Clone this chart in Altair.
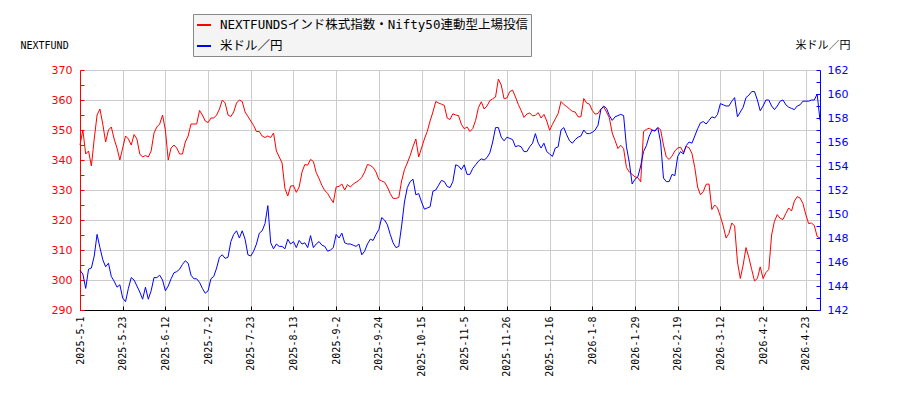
import altair as alt
import pandas as pd

# tick labels every 15 trading days
tick_dates = [
    "2025-5-1", "2025-5-23", "2025-6-12", "2025-7-2", "2025-7-23", "2025-8-13",
    "2025-9-2", "2025-9-24", "2025-10-15", "2025-11-5", "2025-11-26", "2025-12-16",
    "2026-1-8", "2026-1-29", "2026-2-19", "2026-3-12", "2026-4-2", "2026-4-23",
]

# NEXTFUNDS India Nifty50 ETF (left axis), one value per trading day
nextfunds = [
    345, 350, 342, 343, 338, 347, 355, 357, 352, 346,
    350, 351, 347, 344, 340, 344, 348, 347, 345, 348.5,
    347, 342, 341, 341.5, 341, 343, 349, 351, 352, 355,
    350, 340, 344, 345, 344, 342, 342, 346, 348, 352,
    352, 352, 356.5, 355, 353, 352.5, 354, 354, 355, 357,
    360, 359, 355, 354.5, 356, 359, 360, 359.5, 356, 354.5,
    353, 351.5, 349.5, 349.5, 348, 347.5, 348, 347.5, 349, 343,
    341, 339, 330.5, 328, 331.3, 331.5, 329.2, 331, 336, 338.5,
    338.3, 340.2, 339.5, 335.8, 333.8, 331.5, 329.8, 328.9, 327.2, 325.8,
    331, 331.2, 332, 330, 331.8, 331, 332, 332.6, 333.2, 334.2,
    336, 338.5, 338.2, 337.5, 336, 333.5, 333, 332.6, 331, 328.8,
    327.2, 327.2, 327.5, 333, 336.8, 339, 341.5, 344.5, 347, 341,
    344, 347, 349.5, 353, 356, 359.5, 359, 358.6, 358.2, 354,
    353.5, 355.4, 355, 354.8, 351.9, 350.4, 351, 349.5, 350.5, 353.2,
    357.5, 359.4, 357, 358, 359.8, 360.4, 361, 367, 365, 360.4,
    360.7, 362.8, 363.3, 361, 358.5, 356.5, 354.2, 355.3, 355.7, 354.7,
    354.9, 355.8, 354, 355.2, 353, 349.9, 351.9, 353.7, 355.5, 359.5,
    358.5, 357.8, 357, 356.2, 356, 354.4, 354.4, 360.5, 359, 358.6,
    356.5, 355.3, 355.5, 357, 357.7, 356, 354, 349, 346.5, 343.8,
    344.9, 343.8, 337.5, 336, 335.2, 334.4, 334.1, 332.7, 349.5, 350.2,
    350.6, 350, 349.8, 350.8, 350.1, 345, 341, 340.2, 341.3, 343,
    344, 344.3, 342.5, 344.5, 344.1, 342.2, 337.5, 331, 328.4, 329.5,
    331.9, 332, 323.5, 325, 324, 321.2, 318, 314, 315.5, 319,
    318, 306, 300.5, 305, 310.8, 307.5, 303.5, 299.7, 300.5, 304.4,
    300.5, 302.5, 303.5, 315, 319.6, 321.8, 320.5, 320.2, 322.2, 324,
    323, 326.3, 327.8, 327.3, 325.5, 321.8, 318.8, 319, 318.2, 314.5,
    314,
]

# USD/JPY (right axis)
usdjpy = [
    145.3, 145.0, 143.8, 145.4, 145.5, 146.5, 148.3, 147.2, 146.2, 145.6,
    145.9, 144.8, 144.4, 143.9, 144.1, 143.0, 142.7, 143.8, 144.7, 144.5,
    144.0, 143.5, 142.9, 143.9, 142.9, 143.6, 144.7, 144.7, 144.9, 144.5,
    143.6, 144.0, 144.6, 145.1, 145.2, 145.4, 145.8, 146.1, 145.9, 144.9,
    144.6, 144.6, 144.3, 143.8, 143.4, 143.6, 144.6, 144.8, 145.5, 146.4,
    146.6, 146.3, 146.4, 147.7, 148.3, 148.6, 148.0, 148.6, 147.9, 146.6,
    146.5, 146.9, 147.5, 148.4, 148.6, 149.2, 150.7, 147.6, 147.1, 147.5,
    147.3, 147.3, 147.1, 147.9, 147.5, 147.7, 147.2, 147.8, 147.5, 147.6,
    147.2, 148.2, 147.2, 147.5, 147.7, 147.4, 147.3, 146.9, 147.0, 147.2,
    148.3, 148.0, 148.4, 147.6, 147.5, 147.5, 147.4, 147.3, 147.5, 146.6,
    146.9, 147.5, 147.9, 147.8, 148.3, 148.7, 149.7, 149.5, 149.1, 148.3,
    147.6, 147.2, 147.3, 149.0, 151.0, 152.2, 152.7, 152.9, 151.6, 151.7,
    151.0, 150.4, 150.5, 150.6, 151.9, 152.0, 152.4, 152.8, 152.7, 152.3,
    152.2, 152.7, 154.1, 154.0, 153.7, 154.1, 153.3, 153.3, 153.8, 154.1,
    154.4, 154.6, 154.5, 154.7, 155.1, 156.0, 157.2, 157.2, 156.4, 156.1,
    156.4, 156.3, 156.2, 155.6, 155.7, 155.6, 155.2, 155.2, 155.6, 155.9,
    156.7, 155.9, 155.5, 155.9, 155.2, 155.0, 154.8, 155.5, 155.6, 157.0,
    157.2, 156.6, 156.1, 155.9, 156.2, 156.4, 156.5, 157.0, 156.7, 156.7,
    156.8, 157.0, 157.4, 158.7, 159.0, 158.8, 158.2, 157.8, 158.1, 158.2,
    158.3, 158.2, 155.6, 154.3, 152.5, 152.9, 153.1, 154.0, 155.2, 155.7,
    156.5, 157.0, 156.9, 157.2, 156.0, 153.0, 152.7, 152.7, 153.3, 153.2,
    154.8, 155.2, 155.0, 155.7, 156.0, 155.9, 156.5, 157.1, 157.6, 157.7,
    157.5, 157.8, 158.1, 158.0, 158.3, 159.2, 159.1, 159.0, 159.0, 159.4,
    159.7, 158.1, 158.5, 158.9, 159.7, 159.9, 160.2, 160.2, 159.5, 158.6,
    159.0, 159.5, 159.5, 159.0, 158.7, 159.0, 159.4, 159.5, 159.1, 158.9,
    158.8, 158.7, 159.0, 159.1, 159.4, 159.4, 159.4, 159.5, 159.5, 160.0,
    157.8,
]

NF_NAME = "NEXTFUNDSインド株式指数・Nifty50連動型上場投信"
FX_NAME = "米ドル／円"
MONO = "DejaVu Sans Mono"
SANS = "DejaVu Sans"
JP = "DejaVu Sans Mono, Noto Sans CJK JP"

days = list(range(len(nextfunds)))
df = pd.concat(
    [
        pd.DataFrame({"day": days, "series": NF_NAME, "value": nextfunds}),
        pd.DataFrame({"day": days, "series": FX_NAME, "value": usdjpy}),
    ],
    ignore_index=True,
)

label_expr = "[" + ",".join(f"'{d}'" for d in tick_dates) + "][round(datum.value / 15)]"
inward = {"expr": "-4"}

x = alt.X(
    "day:Q",
    scale=alt.Scale(domain=[0, len(nextfunds) - 1], nice=False, zero=False),
    axis=alt.Axis(
        title=None,
        values=list(range(0, 256, 15)),
        labelExpr=label_expr,
        labelAngle=270,
        labelFont=MONO,
        labelFontSize=10,
        labelColor="#000000",
        labelPadding=10,
        labelOverlap=False,
        labelFlush=False,
        tickColor="#000000",
        tickSize=inward,
        domainColor="#000000",
        gridColor="#cccccc",
    ),
)

color = alt.Color(
    "series:N",
    scale=alt.Scale(domain=[NF_NAME, FX_NAME], range=["#ff0000", "#0000ff"]),
    legend=alt.Legend(
        title=None,
        orient="none",
        legendX=113,
        legendY=-56,
        direction="vertical",
        fillColor="#f4f4f4",
        strokeColor="#888888",
        padding=3,
        symbolType="stroke",
        symbolStrokeWidth=2,
        symbolSize=196,
        labelFont=JP,
        labelFontSize=12.5,
        labelColor="#000000",
        labelOffset=8,
        labelLimit=0,
        rowPadding=6,
    ),
)

red = (
    alt.Chart(df)
    .transform_filter(alt.datum.series == NF_NAME)
    .mark_line(strokeWidth=1)
    .encode(
        x=x,
        y=alt.Y(
            "value:Q",
            scale=alt.Scale(domain=[290, 370], nice=False, zero=False),
            axis=alt.Axis(
                orient="left",
                values=list(range(290, 371, 5)),
                labelExpr="datum.value % 10 == 0 ? datum.label : ''",
                labelFont=SANS,
                labelFontSize=11,
                labelColor="#ff0000",
                labelPadding=12,
                tickColor="#ff0000",
                tickSize=inward,
                domainColor="#ff0000",
                gridColor="#cccccc",
                gridOpacity={"condition": {"test": "datum.value % 10 == 0", "value": 1}, "value": 0},
                title="NEXTFUND",
                titleAngle=0,
                titleX=-60,
                titleY=-25,
                titleAlign="left",
                titleBaseline="middle",
                titleFont=MONO,
                titleFontSize=10,
                titleFontWeight="normal",
                titleColor="#000000",
            ),
        ),
        color=color,
    )
)

blue = (
    alt.Chart(df)
    .transform_filter(alt.datum.series == FX_NAME)
    .mark_line(strokeWidth=1)
    .encode(
        x=x,
        y=alt.Y(
            "value:Q",
            scale=alt.Scale(domain=[142, 162], nice=False, zero=False),
            axis=alt.Axis(
                orient="right",
                values=list(range(142, 163)),
                labelExpr="datum.value % 2 == 0 ? datum.label : ''",
                labelFont=SANS,
                labelFontSize=11,
                labelColor="#0000ff",
                labelPadding=11,
                tickColor="#0000ff",
                tickSize=inward,
                domainColor="#0000ff",
                grid=False,
                title=FX_NAME,
                titleAngle=0,
                titleX=30,
                titleY=-25,
                titleAlign="right",
                titleBaseline="middle",
                titleFont=JP,
                titleFontSize=11,
                titleFontWeight="normal",
                titleColor="#000000",
            ),
        ),
        color=color,
    )
)

chart = (
    alt.layer(red, blue)
    .resolve_scale(y="independent")
    .properties(
        width=740,
        height=240,
        padding={"left": 72, "top": 62, "right": 64, "bottom": 70},
        autosize=alt.AutoSizeParams(type="none"),
    )
    .configure_view(strokeOpacity=0)
)

chart.save("out.html", embed_options={"renderer": "svg", "actions": False})
